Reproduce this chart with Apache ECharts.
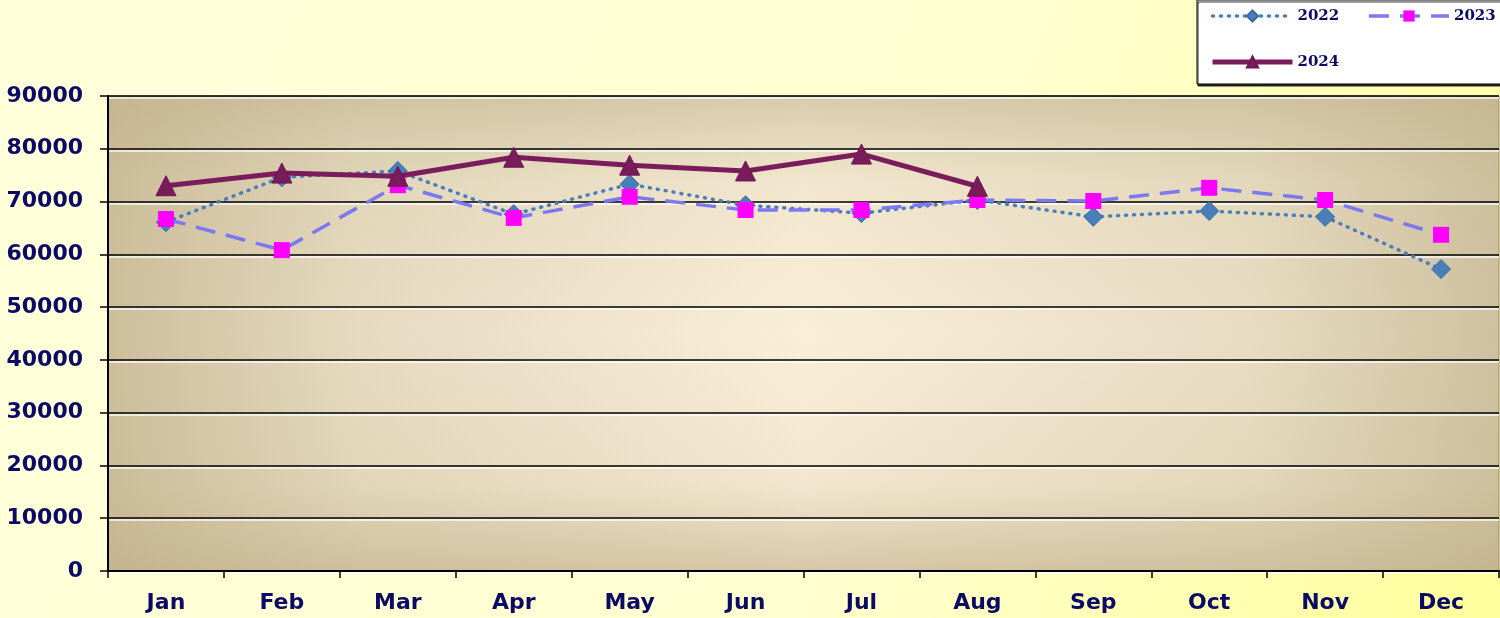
<!DOCTYPE html>
<html>
<head>
<meta charset="utf-8">
<script src="https://cdn.jsdelivr.net/npm/echarts@6/dist/echarts.min.js"></script>
<style>
html,body{margin:0;padding:0;}
#chart{width:1500px;height:618px;}
</style>
</head>
<body>
<div id="chart"></div>
<script>
const categories = ['Jan','Feb','Mar','Apr','May','Jun','Jul','Aug','Sep','Oct','Nov','Dec'];
const seriesNames = ['2022','2023','2024'];
const values2022 = [66100, 74600, 75800, 67600, 73300, 69300, 67800, 70300, 67100, 68200, 67100, 57200];
const values2023 = [66700, 60800, 73100, 66900, 70900, 68400, 68400, 70300, 70100, 72600, 70300, 63700];
const values2024 = [73000, 75400, 74800, 78400, 76900, 75800, 79000, 72900, null, null, null, null];
const yMin = 0, yMax = 90000, yInterval = 10000;

const GL = 108, GT = 96, GR = 1, GB = 47;
const W = 1500, H = 618;
const navy = '#0b0b66';
const labelFont = {color: navy, fontFamily: 'DejaVu Sans', fontWeight: 'bold', fontSize: 22};

const chart = echarts.init(document.getElementById('chart'), null, {renderer: 'canvas'});
chart.setOption({
  animation: false,
  backgroundColor: {type:'linear', x:0, y:0, x2:1, y2:1, colorStops:[
    {offset:0, color:'#ffffdc'}, {offset:0.6, color:'#ffffcf'}, {offset:1, color:'#ffff9c'}]},
  graphic: [
    {type:'rect', z:-10, silent:true, shape:{x:GL, y:GT, width:W-GL-GR, height:H-GT-GB},
     style:{fill:{type:'linear', x:0, y:0, x2:1, y2:0, colorStops:[
       {offset:0, color:'#cdbe9b'}, {offset:0.18, color:'#e6dbc1'}, {offset:0.5, color:'#f9eed8'},
       {offset:0.82, color:'#e8ddc3'}, {offset:1, color:'#cfc19f'}]}}},
    {type:'rect', z:-9, silent:true, shape:{x:GL, y:GT, width:W-GL-GR, height:H-GT-GB},
     style:{fill:{type:'linear', x:0, y:0, x2:0, y2:1, colorStops:[
       {offset:0, color:'rgba(190,174,134,0.55)'}, {offset:0.18, color:'rgba(190,174,134,0.12)'},
       {offset:0.5, color:'rgba(190,174,134,0)'}, {offset:0.82, color:'rgba(190,174,134,0.12)'},
       {offset:1, color:'rgba(190,174,134,0.6)'}]}}}
  ],
  legend: {
    data: seriesNames,
    left: 1197, top: 0,
    width: 300,
    padding: [7, 12, 13, 13],
    itemWidth: 80, itemHeight: 14,
    itemGap: 28,
    backgroundColor: '#ffffff',
    borderColor: '#000000', borderWidth: 1,
    shadowColor: 'rgba(0,0,0,0.8)', shadowOffsetX: 1, shadowOffsetY: 2, shadowBlur: 0,
    lineStyle: {width: 'inherit'},
    textStyle: {color: navy, fontFamily: 'DejaVu Serif', fontWeight: 'bold', fontSize: 15, lineHeight: 18}
  },
  grid: {left: GL, right: GR, top: GT, bottom: GB, show: true, borderColor: '#9a8e76', borderWidth: 1, backgroundColor: 'transparent'},
  xAxis: {
    type: 'category', data: categories, boundaryGap: true,
    axisLine: {lineStyle: {color: '#000', width: 2}},
    axisTick: {show: true, length: 7, lineStyle: {color: '#000', width: 1.5}},
    axisLabel: Object.assign({margin: 21}, labelFont)
  },
  yAxis: {
    type: 'value', min: yMin, max: yMax, interval: yInterval,
    axisLine: {show: true, lineStyle: {color: '#000', width: 2}},
    axisTick: {show: true, length: 8, lineStyle: {color: '#000', width: 1.5}},
    axisLabel: Object.assign({margin: 25, formatter: function (v) { return String(v); }}, labelFont),
    splitLine: {show: true, lineStyle: {color: '#000', width: 1.5, shadowColor: 'rgba(255,255,255,0.9)', shadowOffsetY: 2, shadowBlur: 0}}
  },
  series: [
    {name: '2022', type: 'line', data: values2022, symbol: 'diamond', symbolSize: 19,
     lineStyle: {color: '#4a7ebb', width: 3.5, type: [1, 7], cap: 'round'},
     itemStyle: {color: '#4a7ebb', borderColor: '#3b6aa3', borderWidth: 1}, z: 3},
    {name: '2023', type: 'line', data: values2023, symbol: 'rect', symbolSize: 16,
     lineStyle: {color: '#7b78f0', width: 3.5, type: [20, 11]},
     itemStyle: {color: '#ff00ff', borderColor: '#ff00ff', borderWidth: 0}, z: 4},
    {name: '2024', type: 'line', data: values2024, symbol: 'triangle', symbolSize: 20,
     lineStyle: {color: '#7a1c5c', width: 5},
     itemStyle: {color: '#7a1c5c', borderColor: '#6a164f', borderWidth: 1}, z: 5}
  ]
});
</script>
</body>
</html>
